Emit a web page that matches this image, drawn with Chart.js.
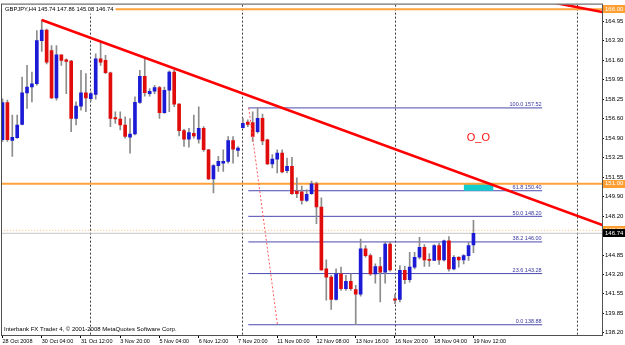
<!DOCTYPE html>
<html>
<head>
<meta charset="utf-8">
<script src="https://cdn.jsdelivr.net/npm/chart.js@4.4.0/dist/chart.umd.min.js"></script>
<style>
  html, body { margin: 0; padding: 0; background: #fff; }
  canvas { display: block; }
</style>
</head>
<body>
<canvas id="c" width="625" height="345"></canvas>
<script>
// GBPJPY H4 candles, one per bar index (0 = 28 Oct 2008 20:00)
const opens  = [154.78,157.98,154.72,154.97,156.11,158.81,159.32,159.60,163.30,164.21,
                162.45,158.38,162.08,161.65,161.54,156.62,157.68,158.81,158.32,158.67,
                161.73,161.60,160.54,156.68,156.57,156.05,155.00,155.28,158.00,160.23,
                158.75,158.95,159.26,157.10,159.04,160.60,157.85,155.57,154.83,155.34,
                154.83,155.77,153.92,151.42,152.56,152.76,152.93,154.72,153.86,155.83,
                156.30,156.25,155.48,156.62,154.78,152.70,153.12,153.63,152.13,152.50,
                150.37,150.30,149.57,150.14,150.99,149.00,143.69,142.97,141.05,143.26,
                141.99,142.61,141.91,141.50,145.40,144.82,143.26,143.88,143.40,145.82,
                141.10,141.05,143.55,142.75,143.83,144.68,145.54,144.46,144.40,145.68,
                144.46,146.10,143.69,144.68,144.46,144.82,145.74];
const highs  = [158.30,158.20,156.91,156.91,160.17,161.17,160.60,164.16,165.09,164.30,
                162.88,162.88,162.08,161.73,161.60,158.04,160.75,160.46,158.90,162.16,
                163.22,162.03,160.60,157.19,157.19,156.76,156.60,158.47,160.75,161.73,
                159.18,159.47,159.38,159.32,160.70,160.75,157.90,155.68,155.77,156.91,
                157.62,155.91,153.97,152.64,153.35,153.92,155.06,155.06,154.20,156.62,
                156.50,157.19,157.52,157.00,154.85,153.50,153.92,153.92,153.20,153.27,
                151.50,150.80,150.50,151.22,151.15,149.80,144.46,143.12,143.69,143.83,
                143.12,143.26,142.26,146.25,145.68,144.97,144.12,144.68,145.96,145.96,
                141.50,143.97,143.90,145.11,145.11,146.39,145.77,145.00,145.77,145.89,
                146.16,146.45,144.82,144.74,144.91,145.96,147.86];
const lows   = [154.63,154.63,153.35,154.90,156.05,157.47,158.04,159.47,162.37,161.30,
                158.32,158.19,161.17,158.75,155.48,156.05,157.33,157.19,158.10,158.27,
                161.17,160.46,155.91,156.19,155.63,154.91,153.63,155.20,157.90,158.53,
                158.53,158.75,156.62,157.04,157.19,157.62,155.12,154.20,154.14,154.91,
                154.48,153.78,151.36,150.22,152.07,152.07,152.78,152.78,153.35,155.77,
                155.90,154.63,155.34,154.35,152.65,152.36,151.93,151.93,151.93,150.08,
                149.80,149.24,149.45,150.08,147.58,143.55,140.99,140.20,140.99,141.84,
                141.84,141.84,138.88,141.33,144.68,143.12,142.46,140.84,142.46,143.48,
                140.70,140.84,142.41,142.55,143.69,144.54,143.89,143.89,144.40,144.06,
                144.35,143.48,143.60,143.83,144.12,144.40,145.08];
const closes = [157.98,154.78,155.00,156.05,158.81,159.32,159.60,163.30,164.21,161.45,
                158.38,162.08,161.60,161.51,156.62,157.68,158.81,158.38,158.75,161.73,
                161.45,160.54,156.62,156.57,156.05,155.06,155.28,158.00,160.23,158.84,
                158.95,159.26,157.10,159.04,160.60,157.85,155.57,154.83,155.40,155.11,
                155.77,153.92,151.42,152.56,152.93,152.93,154.72,153.97,154.06,156.19,
                156.10,155.06,156.62,154.69,152.70,153.12,153.63,152.01,152.50,150.14,
                150.14,149.57,150.09,150.99,149.00,143.60,142.97,141.05,143.26,141.99,
                142.61,141.99,141.50,145.40,144.82,143.26,143.88,143.40,145.82,143.60,
                141.00,143.55,142.75,143.83,144.68,145.54,144.46,144.40,145.68,144.46,
                146.10,143.69,144.68,144.46,144.82,145.68,146.74];

// time axis labels and the bar index they sit on
const timeTickIdx = [0, 8, 16, 24, 32, 40, 48, 56, 64, 72, 80, 88, 96];
const timeLabels = ['28 Oct 2008', '30 Oct 04:00', '31 Oct 12:00', '3 Nov 20:00', '5 Nov 04:00',
                    '6 Nov 12:00', '7 Nov 20:00', '11 Nov 00:00', '12 Nov 08:00', '13 Nov 16:00',
                    '16 Nov 20:00', '18 Nov 04:00', '19 Nov 12:00'];
// price axis labels
const priceTicks = [164.95, 163.30, 161.60, 159.95, 158.25, 156.60, 154.90, 153.25, 151.55,
                    149.90, 148.20, 144.85, 143.20, 141.55, 139.85, 138.20];

// fibonacci retracement
const fibPct   = [0.0, 23.6, 38.2, 50.0, 61.8, 100.0];
const fibPrice = [138.88, 143.28, 146.00, 148.20, 150.40, 157.52];
const fibSpan  = [50.1, 110.0];
const fibDiag  = [[50.2, 157.52], [56.05, 138.88]];

// drawn objects
const trendMain  = [[8, 165.07], [122.3, 147.45]];
const trendTop   = [[110, 166.76], [123, 165.70]];
const separators = [17.94, 48.92, 80.11, 117.20];
const zoneX = [94.0, 100.1];
const zoneY = [150.40, 151.00];
const orangeLevels = [166.00, 151.00];
const askLevel = 147.00;
const bidLevel = 146.74;
const noteText = 'O_O';
const notePos = [97.0, 154.97];
const titleText = 'GBPJPY,H4 145.74 147.86 145.08 146.74';
const footerText = 'Interbank FX Trader 4, \u00a9 2001-2008 MetaQuotes Software Corp.';

const xMin = -0.1, xMax = 122.2;
const yMin = 138.0, yMax = 166.40;

const FONT = '"Liberation Sans", Arial, sans-serif';
const bars = opens.map((o, i) => i);

function seg(points) {
  return points.map(p => ({ x: p[0], y: p[1] }));
}
function hline(y) {
  return [{ x: xMin - 2, y: y }, { x: xMax + 2, y: y }];
}
function lineDs(data, color, width, order, dash) {
  return {
    type: 'line', data: data, borderColor: color, borderWidth: width,
    borderDash: dash || [], pointRadius: 0, tension: 0, fill: false,
    order: order, clip: 0
  };
}

const datasets = [];
// trend lines on top
datasets.push(lineDs(seg(trendMain), '#ff0000', 2.6, 1));
datasets.push(lineDs(seg(trendTop), '#ff0000', 2.6, 1));
datasets.push(lineDs(seg(fibDiag), '#ff5a5a', 1, 2, [2, 2]));
// candles
datasets.push({
  type: 'bar', order: 3, grouped: false, barThickness: 3, minBarLength: 1.2,
  data: bars.map(i => ({ x: i, y: [opens[i], closes[i]] })),
  backgroundColor: bars.map(i => closes[i] >= opens[i] ? '#1b1bd6' : '#e00b0b'),
  borderWidth: 0
});
datasets.push({
  type: 'bar', order: 4, grouped: false, barThickness: 1,
  data: bars.map(i => ({ x: i, y: [lows[i], highs[i]] })),
  backgroundColor: '#8c8c8c', borderWidth: 0
});
// price levels
orangeLevels.forEach(p => datasets.push(lineDs(hline(p), '#ffa23a', 2, 5)));
datasets.push(lineDs(hline(askLevel), '#ffb870', 1, 5, [1, 2]));
datasets.push(lineDs(hline(bidLevel), '#c4c4c4', 1, 5));
// rectangle zone
datasets.push({
  type: 'line', order: 6, pointRadius: 0, borderWidth: 0, clip: 0,
  data: [{ x: zoneX[0], y: zoneY[1] }, { x: zoneX[1], y: zoneY[1] }],
  fill: { value: zoneY[0] }, backgroundColor: '#13cccc'
});
// fibonacci levels
fibPrice.forEach(p => datasets.push(lineDs([{ x: fibSpan[0], y: p }, { x: fibSpan[1], y: p }], '#4a4aae', 1, 7)));
// weekly separators
separators.forEach(s => datasets.push(lineDs([{ x: s, y: yMin - 1 }, { x: s, y: yMax + 1 }], '#3c3c3c', 1, 8, [2, 2])));

const overlay = {
  id: 'overlay',
  afterDraw(chart) {
    const { ctx, chartArea: a } = chart;
    const sx = chart.scales.x, sy = chart.scales.y;
    ctx.save();

    // fibonacci level captions
    ctx.font = '5.5px ' + FONT;
    ctx.fillStyle = '#3535a0';
    ctx.textAlign = 'right';
    ctx.textBaseline = 'alphabetic';
    fibPrice.forEach((p, k) => {
      ctx.fillText(fibPct[k].toFixed(1) + ' ' + p.toFixed(2), sx.getPixelForValue(fibSpan[1]) - 0.5, sy.getPixelForValue(p) - 1.5);
    });

    // note
    ctx.font = '11px ' + FONT;
    ctx.fillStyle = '#ff1010';
    ctx.textAlign = 'center';
    ctx.textBaseline = 'middle';
    ctx.fillText(noteText, sx.getPixelForValue(notePos[0]), sy.getPixelForValue(notePos[1]));

    // title with white backing
    ctx.font = '5.8px ' + FONT;
    ctx.textAlign = 'left';
    ctx.textBaseline = 'middle';
    const tw = ctx.measureText(titleText).width;
    ctx.fillStyle = '#ffffff';
    ctx.fillRect(a.left, a.top, tw + 5, 9);
    ctx.fillStyle = '#000000';
    ctx.fillText(titleText, a.left + 3, a.top + 5);

    // footer
    ctx.font = '6px ' + FONT;
    ctx.textBaseline = 'alphabetic';
    ctx.fillText(footerText, a.left + 2, a.bottom - 4);

    // frame
    ctx.strokeStyle = '#505050';
    ctx.lineWidth = 1;
    ctx.strokeRect(a.left - 0.5, a.top - 0.5, a.right - a.left + 1, a.bottom - a.top + 1);

    // price markers on the right axis
    const marks = [[orangeLevels[0], '#ff9f33'], [orangeLevels[1], '#ff9f33'], [askLevel, '#ff9f33'], [bidLevel, '#000000']];
    ctx.font = '6px ' + FONT;
    ctx.textBaseline = 'middle';
    marks.forEach(m => {
      const yy = sy.getPixelForValue(m[0]);
      ctx.fillStyle = m[1];
      ctx.fillRect(a.right + 1, Math.round(yy) - 4, chart.width - a.right - 1, 8);
      ctx.fillStyle = '#ffffff';
      ctx.fillText(m[0].toFixed(2), a.right + 3, yy);
    });
    ctx.restore();
  }
};

new Chart(document.getElementById('c').getContext('2d'), {
  type: 'bar',
  data: { datasets: datasets },
  options: {
    responsive: false,
    animation: false,
    events: [],
    layout: { padding: { left: 2, top: 2, right: 0, bottom: 0 } },
    plugins: { legend: { display: false }, tooltip: { enabled: false } },
    scales: {
      x: {
        type: 'linear', min: xMin, max: xMax, offset: false,
        afterBuildTicks: s => { s.ticks = timeTickIdx.map(v => ({ value: v })); },
        afterFit: s => { s.height = 10; },
        grid: { drawOnChartArea: false, drawTicks: true, tickLength: 3, color: '#000', offset: false },
        border: { display: false },
        ticks: {
          autoSkip: false, maxRotation: 0, align: 'start', padding: 0,
          color: '#000', font: { family: FONT, size: 5.5 },
          callback: v => timeLabels[timeTickIdx.indexOf(v)]
        }
      },
      y: {
        type: 'linear', position: 'right', min: yMin, max: yMax,
        afterBuildTicks: s => { s.ticks = priceTicks.map(v => ({ value: v })); },
        afterFit: s => { s.width = 23; },
        grid: { drawOnChartArea: false, drawTicks: true, tickLength: 2, color: '#000' },
        border: { display: false },
        ticks: {
          autoSkip: false, padding: 1, color: '#000', font: { family: FONT, size: 6 },
          callback: v => v.toFixed(2)
        }
      }
    }
  },
  plugins: [overlay]
});
</script>
</body>
</html>
